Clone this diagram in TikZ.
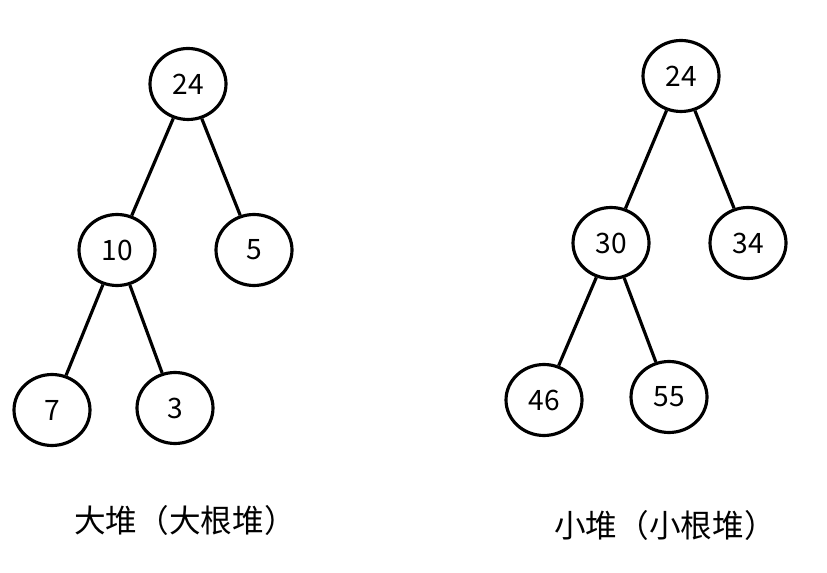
\documentclass[tikz,border=0pt]{standalone}
\usepackage{fontspec}
\setmainfont{Noto Sans CJK SC}
\usetikzlibrary{shapes.geometric}
\tikzset{
  heapnode/.style={ellipse,draw,line width=1.8pt,minimum width=1.52cm,minimum height=1.42cm,font=\fontsize{16}{19}\selectfont},
  heapedge/.style={line width=1.8pt},
  caption/.style={font=\fontsize{18}{21}\selectfont}
}
\begin{document}
\begin{tikzpicture}[x=0.02cm,y=-0.02cm]
  \useasboundingbox (0,0) rectangle (827,573);
  % Big heap
  \node[heapnode] (lroot) at (188,84) {24};
  \node[heapnode] (lten) at (117,250) {10};
  \node[heapnode] (lfive) at (254,250) {5};
  \node[heapnode] (lseven) at (52,410) {7};
  \node[heapnode] (lthree) at (175,408) {3};
  \draw[heapedge] (lroot) -- (lten);
  \draw[heapedge] (lroot) -- (lfive);
  \draw[heapedge] (lten) -- (lseven);
  \draw[heapedge] (lten) -- (lthree);
  \node[caption] (lcap) at (185,520) {大堆（大根堆）};
  % Small heap
  \node[heapnode] (rroot) at (681,76) {24};
  \node[heapnode] (rthirty) at (611,243) {30};
  \node[heapnode] (rthirtyfour) at (748,243) {34};
  \node[heapnode] (rfortysix) at (544,400) {46};
  \node[heapnode] (rfiftyfive) at (669,397) {55};
  \draw[heapedge] (rroot) -- (rthirty);
  \draw[heapedge] (rroot) -- (rthirtyfour);
  \draw[heapedge] (rthirty) -- (rfortysix);
  \draw[heapedge] (rthirty) -- (rfiftyfive);
  \node[caption] (rcap) at (665,525) {小堆（小根堆）};
\end{tikzpicture}
\end{document}
